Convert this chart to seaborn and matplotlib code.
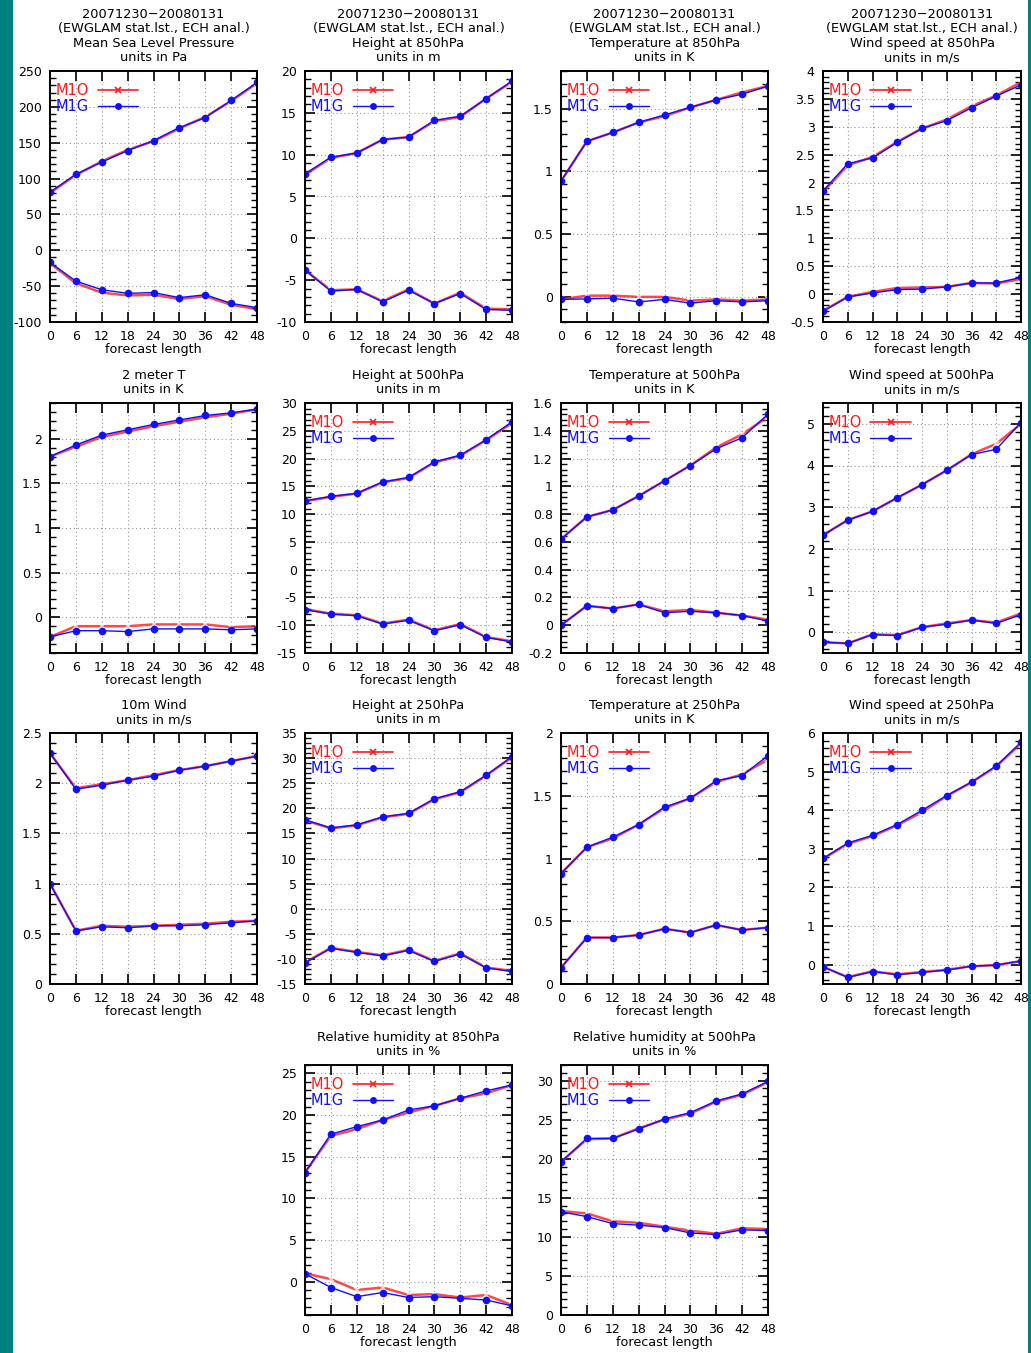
import numpy as np
import pandas as pd
import matplotlib
matplotlib.use("Agg")
import matplotlib.pyplot as plt
import seaborn as sns
from matplotlib.lines import Line2D
from matplotlib.patches import Rectangle
from matplotlib.ticker import MultipleLocator, AutoMinorLocator, FormatStrFormatter

# ---------------- data ----------------
steps = [0, 6, 12, 18, 24, 30, 36, 42, 48]
models = ["M1O", "M1G"]

period = "20071230\u221220080131"
source = "(EWGLAM stat.lst., ECH anal.)"

titles = ["Mean Sea Level Pressure", "Height at 850hPa", "Temperature at 850hPa",
          "Wind speed at 850hPa", "2 meter T", "Height at 500hPa",
          "Temperature at 500hPa", "Wind speed at 500hPa", "10m Wind",
          "Height at 250hPa", "Temperature at 250hPa", "Wind speed at 250hPa",
          "Relative humidity at 850hPa", "Relative humidity at 500hPa"]
units = ["Pa", "m", "K", "m/s", "K", "m", "K", "m/s", "m/s", "m", "K", "m/s", "%", "%"]

mslp_o_up = [80, 105, 124, 140, 152, 170, 186, 208, 233]
mslp_g_up = [81, 106, 123, 139, 153, 171, 185, 209, 234]
mslp_o_lo = [-18, -46, -59, -63, -62, -68, -64, -76, -82]
mslp_g_lo = [-17, -43, -55, -60, -59, -66, -62, -74, -80]

z850_o_up = [7.6, 9.6, 10.2, 11.8, 12.1, 14.0, 14.5, 16.7, 18.7]
z850_g_up = [7.7, 9.7, 10.2, 11.8, 12.1, 14.1, 14.6, 16.7, 18.8]
z850_o_lo = [-3.8, -6.2, -6.1, -7.5, -6.1, -7.8, -6.5, -8.4, -8.5]
z850_g_lo = [-3.8, -6.3, -6.1, -7.6, -6.2, -7.8, -6.6, -8.5, -8.6]

t850_o_up = [0.92, 1.24, 1.31, 1.39, 1.44, 1.51, 1.57, 1.63, 1.68]
t850_g_up = [0.925, 1.24, 1.31, 1.39, 1.45, 1.51, 1.57, 1.615, 1.68]
t850_o_lo = [-0.02, 0.01, 0.01, 0.0, 0.0, -0.03, -0.02, -0.03, -0.02]
t850_g_lo = [-0.02, -0.016, -0.01, -0.04, -0.02, -0.05, -0.03, -0.04, -0.03]

w850_o_up = [1.83, 2.31, 2.46, 2.73, 2.97, 3.13, 3.37, 3.56, 3.80]
w850_g_up = [1.85, 2.34, 2.44, 2.72, 2.97, 3.11, 3.34, 3.55, 3.75]
w850_o_lo = [-0.30, -0.05, 0.04, 0.11, 0.12, 0.13, 0.20, 0.19, 0.27]
w850_g_lo = [-0.31, -0.05, 0.02, 0.08, 0.09, 0.13, 0.20, 0.20, 0.30]

t2m_o_up = [1.80, 1.91, 2.02, 2.08, 2.14, 2.19, 2.24, 2.28, 2.33]
t2m_g_up = [1.80, 1.93, 2.04, 2.10, 2.16, 2.21, 2.26, 2.29, 2.33]
t2m_o_lo = [-0.22, -0.10, -0.10, -0.10, -0.08, -0.08, -0.08, -0.11, -0.10]
t2m_g_lo = [-0.22, -0.15, -0.15, -0.16, -0.13, -0.13, -0.13, -0.14, -0.13]

z500_o_up = [12.3, 13.1, 13.7, 15.7, 16.5, 19.3, 20.5, 23.3, 26.4]
z500_g_up = [12.4, 13.2, 13.75, 15.8, 16.6, 19.4, 20.6, 23.4, 26.6]
z500_o_lo = [-7.1, -7.9, -8.2, -9.7, -9.0, -10.9, -9.8, -12.1, -12.9]
z500_g_lo = [-7.2, -8.0, -8.3, -9.8, -9.1, -11.0, -9.9, -12.2, -13.0]

t500_o_up = [0.62, 0.78, 0.83, 0.93, 1.04, 1.15, 1.28, 1.375, 1.50]
t500_g_up = [0.62, 0.78, 0.83, 0.93, 1.04, 1.15, 1.27, 1.35, 1.52]
t500_o_lo = [0.0, 0.14, 0.12, 0.15, 0.10, 0.11, 0.09, 0.07, 0.04]
t500_g_lo = [0.0, 0.14, 0.12, 0.15, 0.09, 0.10, 0.09, 0.07, 0.03]

w500_o_up = [2.33, 2.69, 2.90, 3.22, 3.54, 3.88, 4.27, 4.52, 5.00]
w500_g_up = [2.33, 2.69, 2.90, 3.23, 3.54, 3.89, 4.26, 4.39, 5.03]
w500_o_lo = [-0.24, -0.27, -0.05, -0.07, 0.12, 0.21, 0.29, 0.23, 0.45]
w500_g_lo = [-0.24, -0.27, -0.06, -0.08, 0.12, 0.19, 0.29, 0.21, 0.42]

w10m_o_up = [2.30, 1.95, 1.99, 2.03, 2.08, 2.13, 2.17, 2.22, 2.27]
w10m_g_up = [2.30, 1.94, 1.98, 2.03, 2.07, 2.13, 2.17, 2.22, 2.27]
w10m_o_lo = [1.0, 0.53, 0.58, 0.57, 0.58, 0.59, 0.60, 0.62, 0.63]
w10m_g_lo = [1.0, 0.53, 0.57, 0.56, 0.58, 0.58, 0.59, 0.61, 0.63]

z250_o_up = [17.6, 16.0, 16.6, 18.2, 18.9, 21.8, 23.2, 26.5, 30.2]
z250_g_up = [17.7, 16.1, 16.7, 18.3, 19.0, 21.9, 23.3, 26.6, 30.3]
z250_o_lo = [-10.7, -7.8, -8.6, -9.3, -8.2, -10.4, -8.9, -11.7, -12.4]
z250_g_lo = [-10.8, -7.9, -8.7, -9.4, -8.3, -10.5, -9.0, -11.8, -12.5]

t250_o_up = [0.88, 1.09, 1.16, 1.27, 1.40, 1.48, 1.61, 1.67, 1.79]
t250_g_up = [0.88, 1.09, 1.17, 1.27, 1.41, 1.48, 1.62, 1.66, 1.82]
t250_o_lo = [0.13, 0.37, 0.37, 0.39, 0.44, 0.41, 0.47, 0.43, 0.45]
t250_g_lo = [0.13, 0.37, 0.37, 0.39, 0.44, 0.41, 0.47, 0.43, 0.45]

w250_o_up = [2.74, 3.13, 3.33, 3.61, 3.95, 4.37, 4.72, 5.13, 5.73]
w250_g_up = [2.75, 3.15, 3.35, 3.63, 4.00, 4.38, 4.73, 5.15, 5.76]
w250_o_lo = [-0.06, -0.32, -0.17, -0.25, -0.19, -0.13, -0.04, -0.01, 0.09]
w250_g_lo = [-0.05, -0.33, -0.18, -0.26, -0.20, -0.14, -0.04, -0.01, 0.10]

rh850_o_up = [13.1, 17.5, 18.3, 19.4, 20.3, 21.1, 22.0, 22.6, 23.6]
rh850_g_up = [13.1, 17.7, 18.6, 19.4, 20.6, 21.1, 22.0, 22.9, 23.6]
rh850_o_lo = [1.0, 0.3, -1.0, -0.7, -1.6, -1.5, -1.9, -1.6, -2.8]
rh850_g_lo = [0.95, -0.7, -1.8, -1.3, -1.9, -1.8, -2.0, -2.2, -2.9]

rh500_o_up = [19.6, 22.5, 22.6, 23.9, 25.0, 25.8, 27.3, 28.2, 29.8]
rh500_g_up = [19.6, 22.6, 22.6, 23.8, 25.1, 25.9, 27.4, 28.3, 29.9]
rh500_o_lo = [13.3, 13.0, 12.0, 11.8, 11.3, 10.8, 10.4, 11.1, 11.0]
rh500_g_lo = [13.2, 12.6, 11.7, 11.5, 11.2, 10.5, 10.3, 10.9, 10.8]

series = [
    (mslp_o_up, mslp_o_lo, mslp_g_up, mslp_g_lo),
    (z850_o_up, z850_o_lo, z850_g_up, z850_g_lo),
    (t850_o_up, t850_o_lo, t850_g_up, t850_g_lo),
    (w850_o_up, w850_o_lo, w850_g_up, w850_g_lo),
    (t2m_o_up, t2m_o_lo, t2m_g_up, t2m_g_lo),
    (z500_o_up, z500_o_lo, z500_g_up, z500_g_lo),
    (t500_o_up, t500_o_lo, t500_g_up, t500_g_lo),
    (w500_o_up, w500_o_lo, w500_g_up, w500_g_lo),
    (w10m_o_up, w10m_o_lo, w10m_g_up, w10m_g_lo),
    (z250_o_up, z250_o_lo, z250_g_up, z250_g_lo),
    (t250_o_up, t250_o_lo, t250_g_up, t250_g_lo),
    (w250_o_up, w250_o_lo, w250_g_up, w250_g_lo),
    (rh850_o_up, rh850_o_lo, rh850_g_up, rh850_g_lo),
    (rh500_o_up, rh500_o_lo, rh500_g_up, rh500_g_lo),
]

# ---------------- layout / style ----------------
ylims = [(-100, 250), (-10, 20), (-0.2, 1.8), (-0.5, 4), (-0.4, 2.4), (-15, 30),
         (-0.2, 1.6), (-0.5, 5.5), (0, 2.5), (-15, 35), (0, 2), (-0.5, 6),
         (-4, 26), (0, 32)]
ysteps = [50, 5, 0.5, 0.5, 0.5, 5, 0.2, 1, 0.5, 5, 0.5, 1, 5, 5]
has_legend = [True, True, True, True, False, True, True, True, False, True, True, True, True, True]

W, H = 1031, 1353
col_left = [50, 305, 561, 823]
col_width = [207, 207, 207, 198]
row_top = [71, 403, 733, 1065]
row_height = [251, 250, 251, 250]
positions = [(r, c) for r in range(3) for c in range(4)] + [(3, 1), (3, 2)]

sns.set_style("ticks")
plt.rcParams["font.family"] = ["DejaVu Sans"]
plt.rcParams["axes.unicode_minus"] = True
for key in ["text.color", "axes.labelcolor", "xtick.color", "ytick.color", "axes.edgecolor"]:
    plt.rcParams[key] = "black"

colors = {"M1O": "#ff1a1a", "M1G": "#1010ff"}

fig = plt.figure(figsize=(W / 100, H / 100), dpi=100)
fig.patch.set_facecolor("white")
fig.add_artist(Rectangle((0, 0), 13 / W, 1, transform=fig.transFigure,
                         facecolor="#008080", edgecolor="none"))
fig.add_artist(Rectangle((1028 / W, 0), 3 / W, 1, transform=fig.transFigure,
                         facecolor="#008080", edgecolor="none"))

for i, (r, c) in enumerate(positions):
    l, t, w, h = col_left[c], row_top[r], col_width[c], row_height[r]
    ax = fig.add_axes([l / W, 1 - (t + h) / H, w / W, h / H])
    o_up, o_lo, g_up, g_lo = series[i]
    df = pd.DataFrame({
        "step": steps * 4,
        "value": list(o_up) + list(o_lo) + list(g_up) + list(g_lo),
        "model": ["M1O"] * 18 + ["M1G"] * 18,
        "stat": (["upper"] * 9 + ["lower"] * 9) * 2,
    })
    sns.lineplot(data=df[df.model == "M1O"], x="step", y="value", units="stat",
                 estimator=None, sort=False, color=colors["M1O"], lw=1.8, alpha=0.8,
                 marker="x", markersize=4, markeredgewidth=1.2, legend=False, ax=ax)
    sns.lineplot(data=df[df.model == "M1G"], x="step", y="value", units="stat",
                 estimator=None, sort=False, color=colors["M1G"], lw=1.0,
                 marker="o", markersize=5.5, markeredgewidth=0, legend=False, ax=ax)

    ax.set_xlim(0, 48)
    ax.set_ylim(*ylims[i])
    ax.xaxis.set_major_locator(MultipleLocator(6))
    ax.yaxis.set_major_locator(MultipleLocator(ysteps[i]))
    ax.yaxis.set_minor_locator(AutoMinorLocator(5))
    ax.yaxis.set_major_formatter(FormatStrFormatter("%g"))
    ax.tick_params(axis="both", which="major", direction="in", length=7, width=1.2,
                   top=True, right=True, labelsize=9, pad=6, color="black")
    ax.tick_params(axis="y", which="minor", direction="in", length=4, width=1.0,
                   left=True, right=True)
    ax.grid(True, which="major", color="#999999", linestyle=(0, (1, 2.5)), linewidth=0.8)
    for s in ax.spines.values():
        s.set_linewidth(1.4)
        s.set_color("black")
    ax.set_xlabel("forecast length", fontsize=9.2, labelpad=0)
    ax.set_ylabel("")

    head = titles[i] + "\nunits in " + units[i]
    if r == 0:
        head = period + "\n" + source + "\n" + head
    ax.set_title(head, fontsize=9.3, linespacing=1.15, pad=7)

    if has_legend[i]:
        handles = [Line2D([], [], color=colors["M1O"], lw=1.2, marker="x",
                          markersize=4, markeredgewidth=1.2),
                   Line2D([], [], color=colors["M1G"], lw=1.0, marker="o",
                          markersize=5, markeredgewidth=0)]
        ax.legend(handles, models, loc="upper left", bbox_to_anchor=(0.012, 0.965),
                  frameon=False, markerfirst=False, labelcolor="linecolor",
                  fontsize=10.5, handlelength=2.8, handletextpad=0.6,
                  labelspacing=0.1, borderaxespad=0.0, borderpad=0.2)

fig.savefig("out.png", dpi=100, facecolor="white")
